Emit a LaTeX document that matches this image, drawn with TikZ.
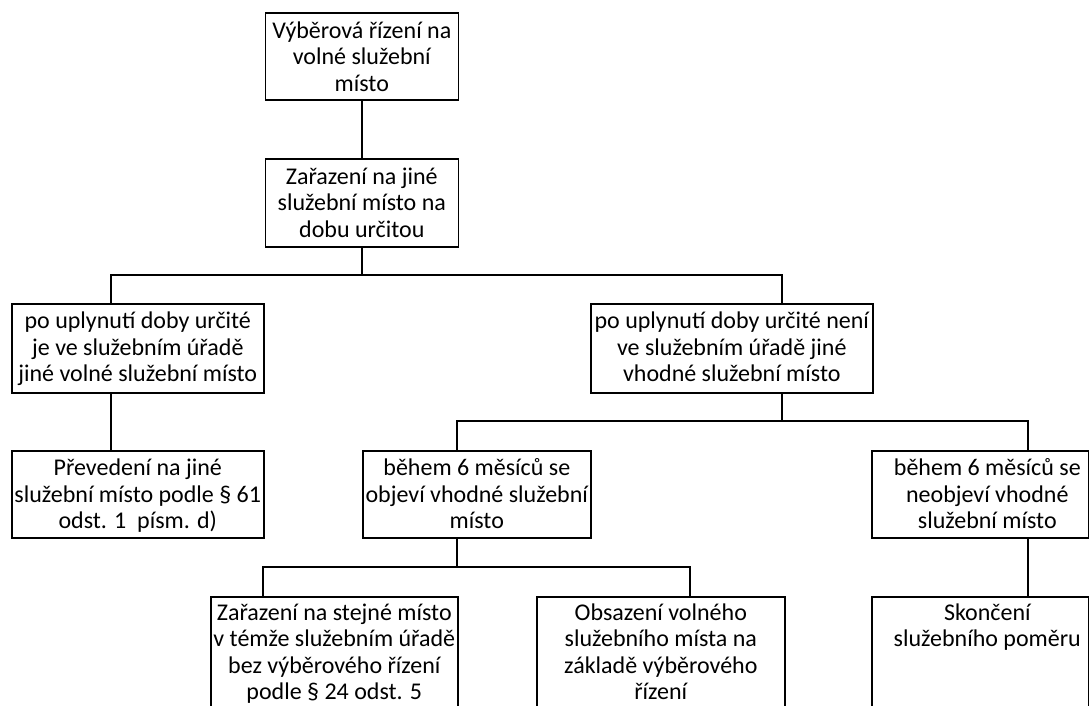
\documentclass[tikz,border=0pt]{standalone}
\usepackage{fontspec}
\setmainfont{Carlito}
% width, height, first baseline, left shift, text
\newcommand\bx[5]{\hbox to #1{\hskip#4\relax\parbox[c][#2][t]{\dimexpr#1-#4\relax}{\centering\rule{0pt}{#3}#5}\hss}}
\tikzset{
  box/.style={draw, line width=1.6pt, inner sep=0pt, anchor=north west,
    font=\fontsize{24pt}{26.5pt}\selectfont},
  conn/.style={line width=1.6pt}
}
\begin{document}
\begin{tikzpicture}[x=1pt,y=-1pt]
\clip (0,0) rectangle (1089,706);
\node[box] (n1) at (264.5,12) {\bx{193pt}{87pt}{25.5pt}{0pt}{Výběrová řízení na\\volné služební\\místo}};
\node[box] (n2) at (264.5,158) {\bx{193pt}{88pt}{25.5pt}{0pt}{Zařazení na jiné\\služební místo na\\dobu určitou}};
\node[box] (n3) at (11,303) {\bx{252pt}{89pt}{25pt}{0pt}{po uplynutí doby určité\\je ve služebním úřadě\\jiné volné služební místo}};
\node[box] (n4) at (590,303) {\bx{282pt}{89pt}{25pt}{0pt}{po uplynutí doby určité není\\ve služebním úřadě jiné\\vhodné služební místo}};
\node[box] (n5) at (11,450) {\bx{252pt}{87pt}{25pt}{0pt}{Převedení na jiné\\služební místo podle § 61\\odst. 1\ \ písm. d)}};
\node[box] (n6) at (362,450) {\bx{228pt}{87pt}{25pt}{0pt}{během 6 měsíců se\\objeví vhodné služební\\místo}};
\node[box] (n7) at (871,450) {\bx{217pt}{87pt}{25pt}{14pt}{během 6 měsíců se\\neobjeví vhodné\\služební místo}};
\node[box] (n8) at (210,596) {\bx{247pt}{130pt}{23.5pt}{0pt}{Zařazení na stejné místo\\v témže služebním úřadě\\bez výběrového řízení\\podle § 24 odst. 5}};
\node[box] (n9) at (536,596) {\bx{248pt}{130pt}{23.5pt}{0pt}{Obsazení volného\\služebního místa na\\základě výběrového\\řízení}};
\node[box] (n10) at (871,596) {\bx{217pt}{130pt}{23.5pt}{14pt}{Skončení\\služebního poměru}};
\coordinate (b1) at (0,275);
\coordinate (b2) at (0,421);
\coordinate (b3) at (0,567);
\coordinate (x3) at (111,0);
\coordinate (x4) at (782,0);
\coordinate (x6) at (457,0);
\coordinate (x7) at (1028,0);
\coordinate (x8) at (263,0);
\coordinate (x9) at (690,0);
\draw[conn] (n1.south) -- (n2.north);
\draw[conn] (n2.south) -- (n2.south |- b1);
\draw[conn] (n3.north -| x3) |- (x4 |- b1) -- (n4.north -| x4);
\draw[conn] (n3.south -| x3) -- (n5.north -| x3);
\draw[conn] (n4.south -| x4) -- (x4 |- b2);
\draw[conn] (n6.north -| x6) |- (x7 |- b2) -- (n7.north -| x7);
\draw[conn] (n6.south -| x6) -- (x6 |- b3);
\draw[conn] (n8.north -| x8) |- (x9 |- b3) -- (n9.north -| x9);
\draw[conn] (n7.south -| x7) -- (n10.north -| x7);
\end{tikzpicture}
\end{document}
